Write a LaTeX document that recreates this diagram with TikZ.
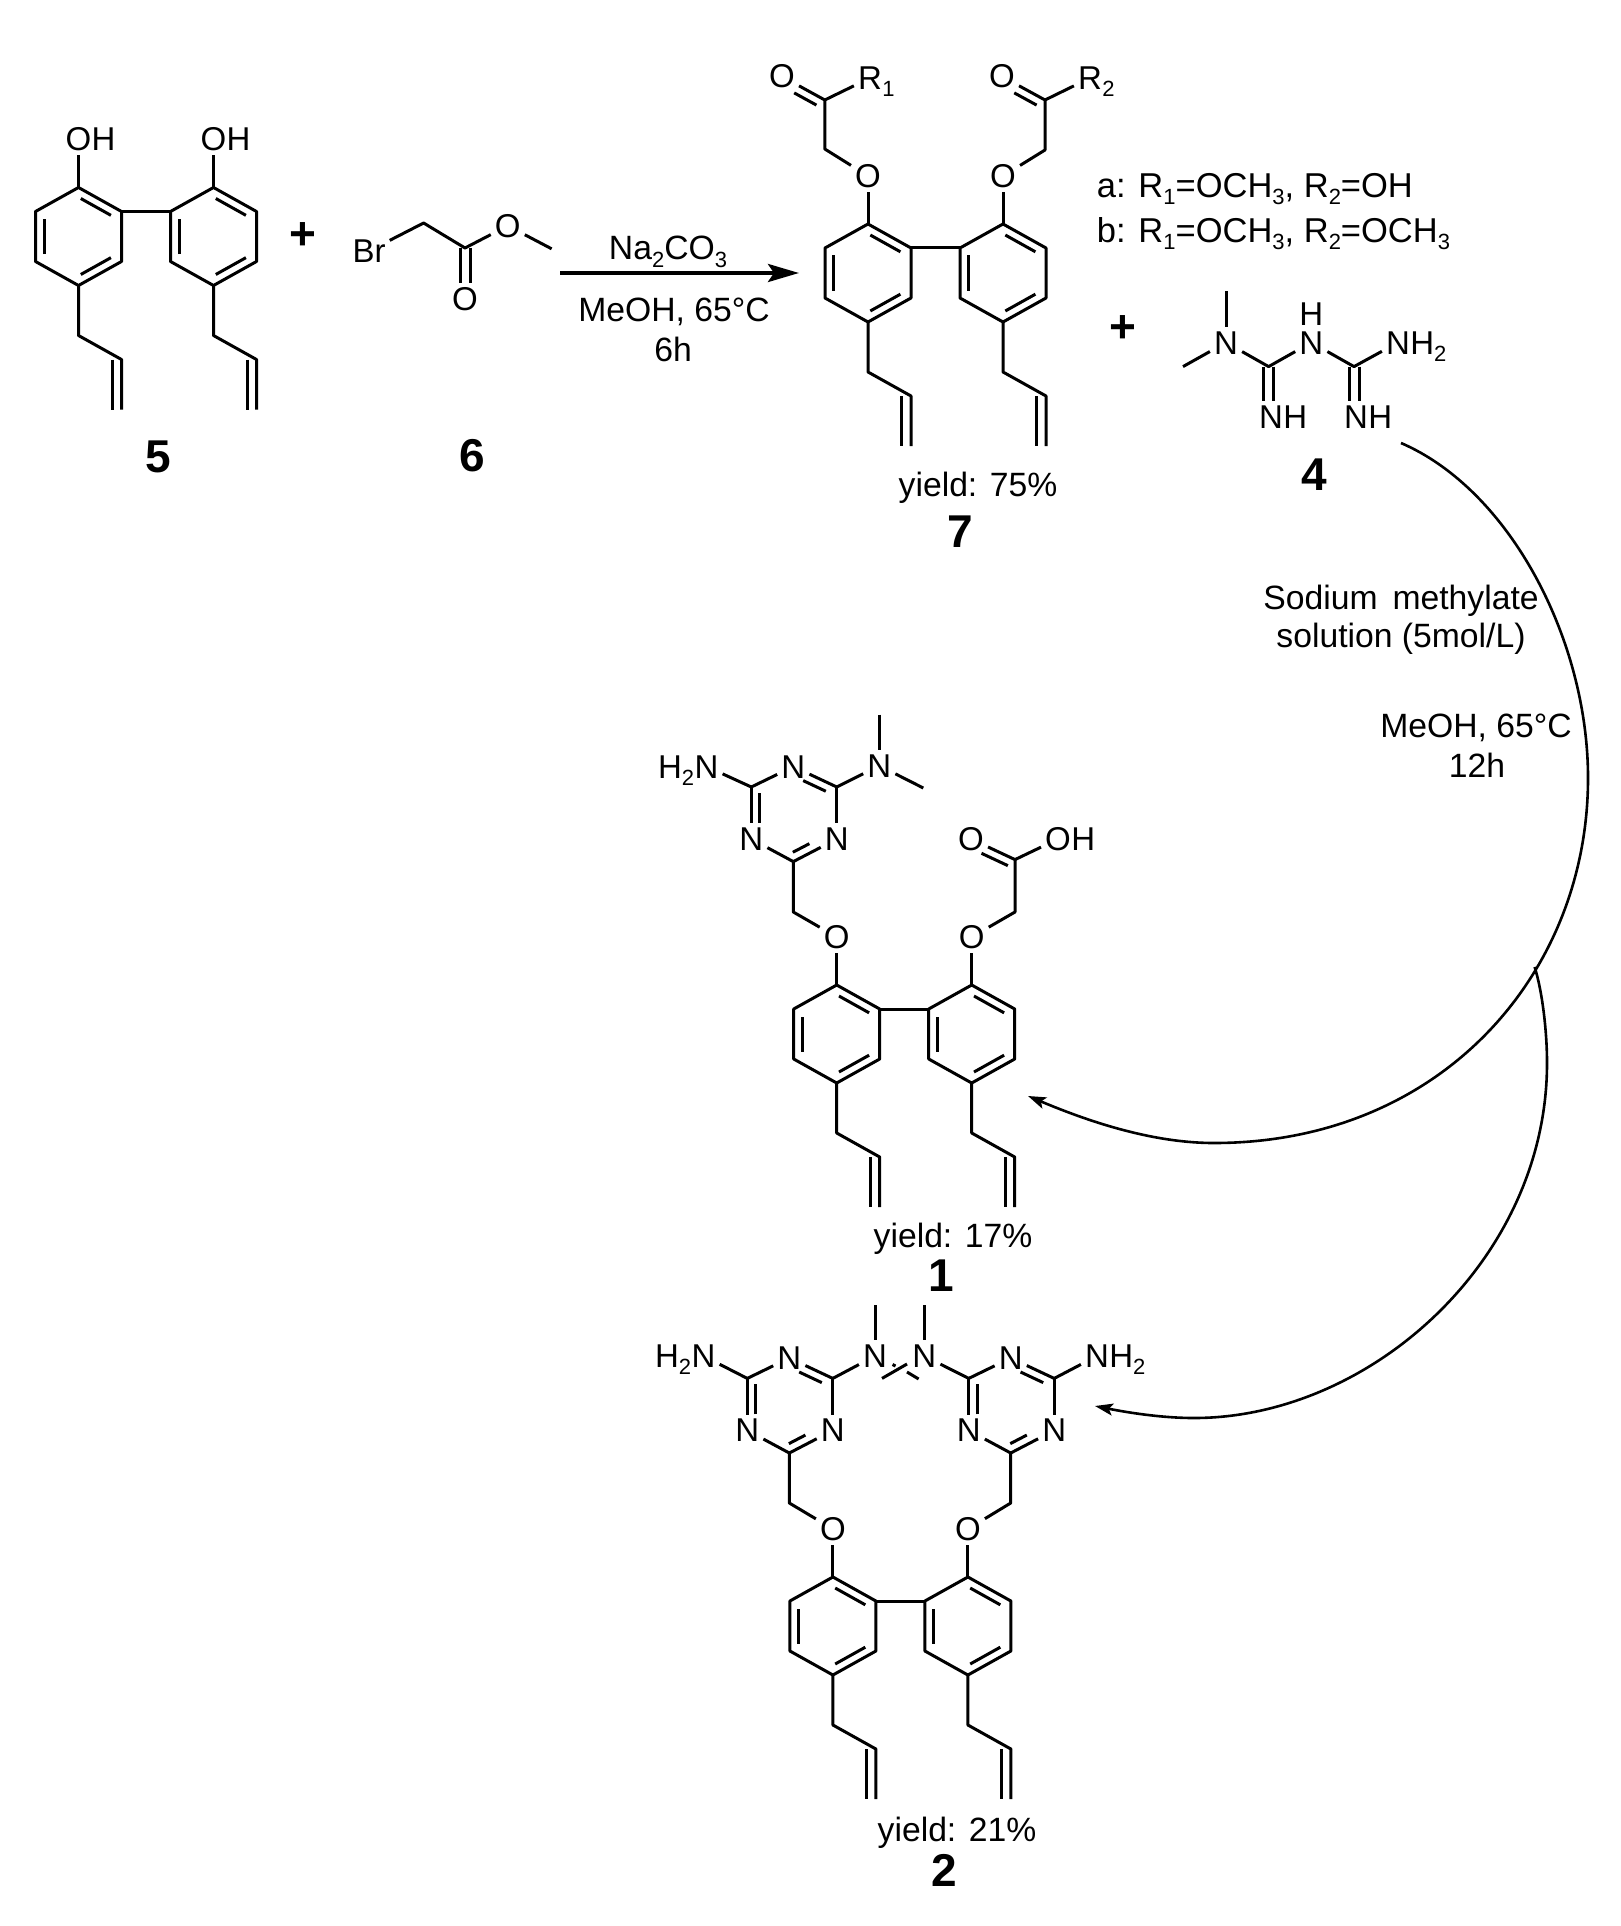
\documentclass[tikz,border=0pt]{standalone}
\usepackage{fontspec}
\setmainfont{Liberation Sans}
\usetikzlibrary{arrows.meta,calc,positioning}

\newcommand{\lowsub}[1]{\raisebox{-7pt}{\fontsize{22}{22}\selectfont #1}}
% second line of a double bond, on the right hand side of #1 -> #2
\newcommand{\dbl}[4]{\draw[bond] ($(#1)!#3!(#2)!8.5pt!-90:(#2)$) -- ($(#2)!#4!(#1)!8.5pt!90:(#1)$);}

\tikzset{
	bond/.style={line width=3pt,line join=round},
	atom/.style={inner sep=4pt,text height=23pt,text depth=0pt,font=\fontsize{33}{36}\selectfont},
	cond/.style={inner sep=0pt,text height=24pt,text depth=0pt,font=\fontsize{33.7}{36}\selectfont},
	note/.style={inner sep=0pt,text height=23pt,text depth=0pt,anchor=west,font=\fontsize{34.5}{36}\selectfont},
	numlabel/.style={inner sep=0pt,font=\fontsize{46}{50}\selectfont\bfseries},
	swoop/.style={line width=2.6pt,-{Stealth[length=18pt,width=12pt,inset=4pt]}},
	pics/biaryl/.style={code={
		\foreach \rg/\ox in {l/0,r/135}{
			\coordinate (-\rg a) at (\ox,0);
			\coordinate (-\rg b) at (\ox+43,24);
			\coordinate (-\rg c) at (\ox+43,74);
			\coordinate (-\rg d) at (\ox,98);
			\coordinate (-\rg e) at (\ox-43,74);
			\coordinate (-\rg f) at (\ox-43,24);
			\coordinate (-\rg g) at (\ox,148);
			\coordinate (-\rg h) at (\ox+43,172);
			\coordinate (-\rg i) at (\ox+43,222);
			\coordinate (-\rg j) at (\ox+33.5,172);
			\coordinate (-\rg k) at (\ox+33.5,222);
			\node[atom] (-\rg o) at (\ox,-48) {O};
			\draw[bond] (-\rg a) -- (-\rg b) -- (-\rg c) -- (-\rg d) -- (-\rg e) -- (-\rg f) -- cycle;
			\dbl{-\rg a}{-\rg b}{.15}{.15}
			\dbl{-\rg c}{-\rg d}{.15}{.15}
			\dbl{-\rg e}{-\rg f}{.15}{.15}
			\draw[bond] (-\rg a) -- (-\rg o);
			\draw[bond] (-\rg d) -- (-\rg g) -- (-\rg h) -- (-\rg i);
			\draw[bond] (-\rg j) -- (-\rg k);
		}
		\draw[bond] (-lb) -- (-rf);
	}},
	pics/triazine/.style={code={
		\coordinate (-b) at (0,0);
		\coordinate (-cl) at (-42,-74.6);
		\coordinate (-cr) at (43.5,-74.6);
		\node[atom] (-nl) at (-42,-22.6) {N};
		\node[atom] (-nr) at (43.5,-22.6) {N};
		\node[atom] (-nt) at (0,-95) {N};
		\draw[bond] (-b) -- (-nl);
		\draw[bond] (-b) -- (-nr);
		\draw[bond] (-cl) -- (-nl);
		\draw[bond] (-cl) -- (-nt);
		\draw[bond] (-cr) -- (-nt);
		\draw[bond] (-cr) -- (-nr);
		\dbl{-nl}{-cl}{.31}{.11}
		\dbl{-nt}{-cr}{.31}{.17}
		\dbl{-nr}{-b}{.54}{.08}
	}},
}

\begin{document}
\begin{tikzpicture}[x=1pt,y=-1pt]
\useasboundingbox (0,0) rectangle (1621,1926);

% compound 5
\pic (m5) at (78.5,187.5) {biaryl};
\node[atom,right=-8pt of m5-lo] (m5hl) {H};
\node[atom,right=-8pt of m5-ro] (m5hr) {H};
\node[numlabel] (n5) at (158.6,457) {5};
\node[numlabel] (plus1) at (303,236) {+};

% compound 6
\node[atom] (m6br) at (369,251) {Br};
\coordinate (m6a) at (423.6,223);
\coordinate (m6c) at (465,248);
\node[atom] (m6o1) at (465,298.5) {O};
\node[atom] (m6o2) at (507.8,225.8) {O};
\coordinate (m6me) at (551.6,248.8);
\draw[bond] (m6br) -- (m6a) -- (m6c) -- (m6o2) -- (m6me);
\draw[bond] ([xshift=-5pt]m6c) -- ([xshift=-5pt]m6o1.north);
\draw[bond] ([xshift=5pt]m6c) -- ([xshift=5pt]m6o1.north);
\node[numlabel] (n6) at (472,456) {6};

% first step
\coordinate (a1s) at (560,273);
\coordinate (a1e) at (799,273);
\draw[line width=4pt,-{Stealth[length=31pt,width=18pt,inset=6pt]}] (a1s) -- (a1e);
\node[cond] (c1a) at (668,248) {Na\lowsub{2}CO\lowsub{3}};
\node[cond] (c1b) at (674,309) {MeOH, 65°C};
\node[cond] (c1c) at (673,349) {6h};

% compound 7
\pic (m7) at (868,224) {biaryl};
\coordinate (m7c1) at (824.8,149);
\coordinate (m7c2) at (824.8,100);
\node[atom] (m7ol) at (782,76.5) {O};
\node[atom] (m7r1) at (870,78) {R};
\node[atom,right=-8pt of m7r1] (m7s1) {\lowsub{1}};
\draw[bond] (m7-lo) -- (m7c1) -- (m7c2) -- (m7ol);
\draw[bond] (m7c2) -- (m7r1);
\dbl{m7ol}{m7c2}{.38}{.1}
\coordinate (m7c3) at (1045,150);
\coordinate (m7c4) at (1045,100);
\node[atom] (m7or) at (1002,76.5) {O};
\node[atom] (m7r2) at (1090,78) {R};
\node[atom,right=-8pt of m7r2] (m7s2) {\lowsub{2}};
\draw[bond] (m7-ro) -- (m7c3) -- (m7c4) -- (m7or);
\draw[bond] (m7c4) -- (m7r2);
\dbl{m7or}{m7c4}{.38}{.1}
\node[cond] (y7) at (978,484) {yield: 75\%};
\node[numlabel] (n7) at (960,532) {7};

\node[note] (keya) at (1096.7,186) {a: R\lowsub{1}=OCH\lowsub{3}, R\lowsub{2}=OH};
\node[note] (keyb) at (1096.7,231.5) {b: R\lowsub{1}=OCH\lowsub{3}, R\lowsub{2}=OCH\lowsub{3}};
\node[numlabel] (plus2) at (1122.6,329) {+};

% compound 4
\node[atom] (m4n1) at (1226,342.5) {N};
\coordinate (m4me1) at (1226,291);
\coordinate (m4me2) at (1183,366.6);
\coordinate (m4c1) at (1268.6,366.6);
\node[atom] (m4n2) at (1311.3,342.5) {N};
\node[atom,inner sep=0pt] (m4h) at (1311.3,313.8) {H};
\coordinate (m4c2) at (1354,366.6);
\node[atom] (m4n3) at (1398,342.5) {N};
\node[atom,right=-8pt of m4n3] (m4h3) {H\lowsub{2}};
\node[atom] (m4n4) at (1271,417) {N};
\node[atom,right=-8pt of m4n4] (m4h4) {H};
\node[atom] (m4n5) at (1356,417) {N};
\node[atom,right=-8pt of m4n5] (m4h5) {H};
\draw[bond] (m4me1) -- (m4n1);
\draw[bond] (m4me2) -- (m4n1);
\draw[bond] (m4n1) -- (m4c1) -- (m4n2) -- (m4c2) -- (m4n3);
\draw[bond] ([xshift=-5pt]m4c1) -- ([xshift=-5pt]m4c1 |- m4n4.north);
\draw[bond] ([xshift=5pt]m4c1) -- ([xshift=5pt]m4c1 |- m4n4.north);
\draw[bond] ([xshift=-5pt]m4c2) -- ([xshift=-5pt]m4c2 |- m4n5.north);
\draw[bond] ([xshift=5pt]m4c2) -- ([xshift=5pt]m4c2 |- m4n5.north);
\node[numlabel] (n4) at (1314,474.5) {4};

% second step
\coordinate (a2s) at (1401,443);
\coordinate (a2m) at (1588,778);
\coordinate (a2b) at (1214,1143);
\coordinate (a2e) at (1028,1096);
\coordinate (a3s) at (1534.6,967);
\coordinate (a3m) at (1547,1063);
\coordinate (a3b) at (1194,1418);
\coordinate (a3e) at (1095,1406);
\draw[swoop] (a2s) .. controls (1510,490) and (1588,640) .. (a2m) .. controls (1588,975) and (1440,1143) .. (a2b) .. controls (1150,1143) and (1085,1120) .. (a2e);
\draw[swoop] (a3s) .. controls (1542,990) and (1547,1030) .. (a3m) .. controls (1547,1260) and (1370,1418) .. (a3b) .. controls (1160,1418) and (1125,1412) .. (a3e);
\node[cond] (c2a) at (1401,597) {Sodium\, methylate};
\node[cond] (c2b) at (1401,635.4) {solution (5mol/L)};
\node[cond] (c2c) at (1476,725) {MeOH, 65°C};
\node[cond] (c2d) at (1477,765) {12h};

% compound 1
\pic (m1) at (836.7,985) {biaryl};
\pic (m1t) at (793.3,861.6) {triazine};
\coordinate (m1c1) at (793.3,912);
\coordinate (m1c2) at (1015,912);
\coordinate (m1c3) at (1015,859.6);
\node[atom] (m1oc) at (971,839) {O};
\node[atom] (m1oh) at (1058,839) {O};
\node[atom,right=-8pt of m1oh] (m1hh) {H};
\node[atom] (m1na) at (706.5,766.5) {N};
\node[atom,left=-8pt of m1na] (m1ha) {H\lowsub{2}};
\node[atom] (m1nb) at (879.3,765.7) {N};
\coordinate (m1me1) at (879.3,714.7);
\coordinate (m1me2) at (923.3,788);
\draw[bond] (m1t-b) -- (m1c1) -- (m1-lo);
\draw[bond] (m1-ro) -- (m1c2) -- (m1c3) -- (m1oc);
\draw[bond] (m1c3) -- (m1oh);
\dbl{m1oc}{m1c3}{.32}{.08}
\draw[bond] (m1t-cl) -- (m1na);
\draw[bond] (m1t-cr) -- (m1nb);
\draw[bond] (m1me1) -- (m1nb);
\draw[bond] (m1me2) -- (m1nb);
\node[cond] (y1) at (953,1235) {yield: 17\%};
\node[numlabel] (n1) at (941.7,1276) {1};

% compound 2
\pic (m2) at (832.9,1577) {biaryl};
\pic (m2tl) at (789.3,1453) {triazine};
\pic (m2tr) at (1010.7,1453) {triazine};
\coordinate (m2c1) at (789.3,1503);
\coordinate (m2c2) at (1010.7,1503);
\draw[bond] (m2tl-b) -- (m2c1) -- (m2-lo);
\draw[bond] (m2tr-b) -- (m2c2) -- (m2-ro);
\node[atom] (m2na) at (703.5,1356) {N};
\node[atom,left=-8pt of m2na] (m2ha) {H\lowsub{2}};
\node[atom] (m2nb) at (1097,1356) {N};
\node[atom,right=-8pt of m2nb] (m2hb) {H\lowsub{2}};
\node[atom] (m2nc) at (875,1356) {N};
\node[atom] (m2nd) at (924.3,1356) {N};
\coordinate (m2me1) at (875,1305.4);
\coordinate (m2me2) at (924.3,1305.4);
\coordinate (m2x1) at (882,1378.4);
\coordinate (m2x2) at (907,1364);
\coordinate (m2x3) at (907,1372);
\coordinate (m2x4) at (918.6,1379);
\coordinate (m2x5) at (892.5,1364.5);
\coordinate (m2x6) at (895.5,1366);
\draw[bond] (m2tl-cl) -- (m2na);
\draw[bond] (m2tr-cr) -- (m2nb);
\draw[bond] (m2tl-cr) -- (m2nc);
\draw[bond] (m2tr-cl) -- (m2nd);
\draw[bond] (m2me1) -- (m2nc);
\draw[bond] (m2me2) -- (m2nd);
\draw[bond] (m2x1) -- (m2x2);
\draw[bond] (m2x3) -- (m2x4);
\draw[bond] (m2x5) -- (m2x6);
\node[cond] (y2) at (957,1829.5) {yield: 21\%};
\node[numlabel] (n2) at (944.6,1870) {2};

\end{tikzpicture}
\end{document}
